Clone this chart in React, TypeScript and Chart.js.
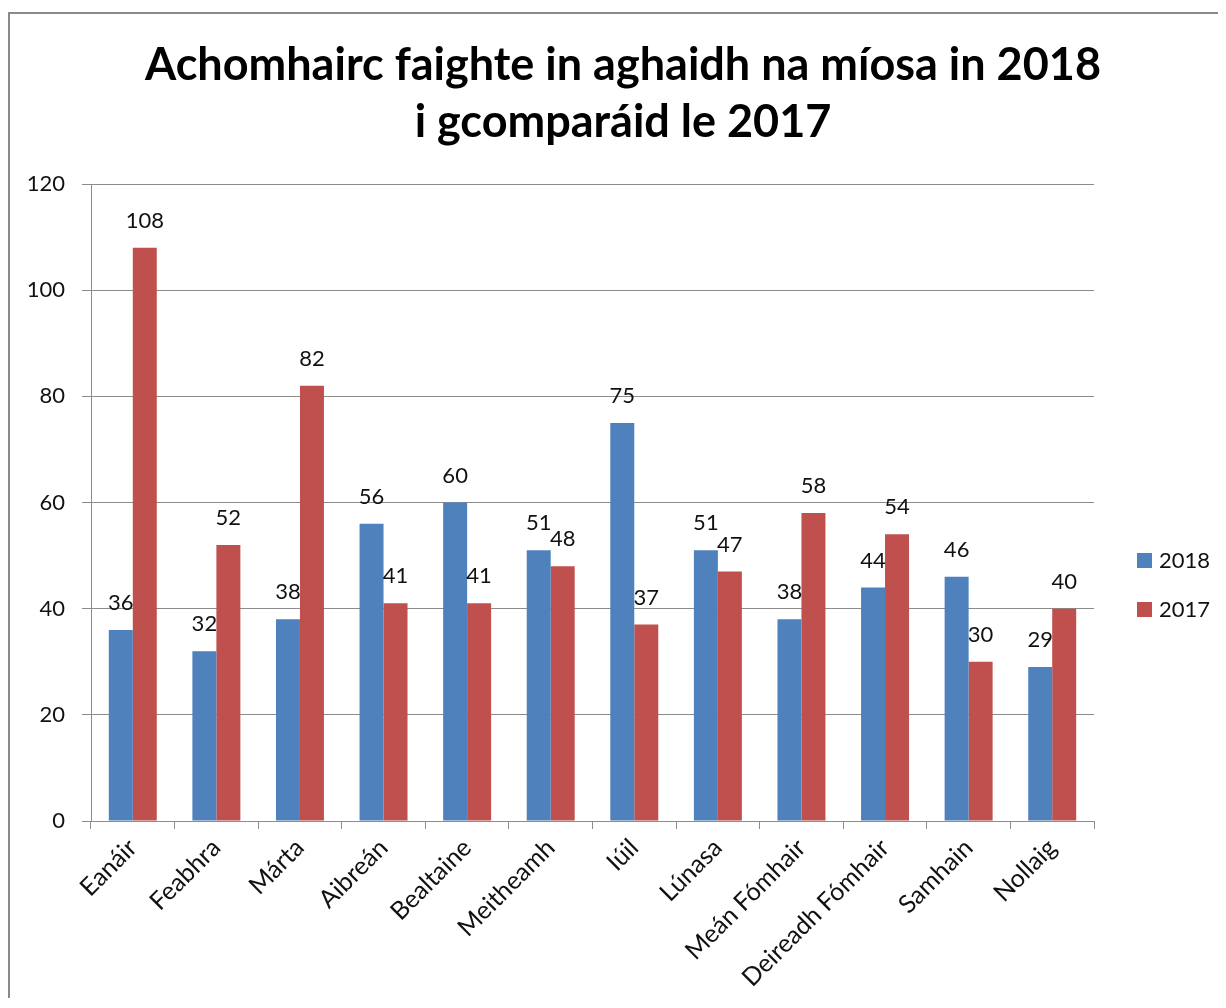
import { useEffect, useRef } from "react";
import { Chart, registerables } from "chart.js";

Chart.register(...registerables);

const TITLE_LINES = ["Achomhairc faighte in aghaidh na míosa in 2018", "i gcomparáid le 2017"];
const MONTHS = [
  "Eanáir",
  "Feabhra",
  "Márta",
  "Aibreán",
  "Bealtaine",
  "Meitheamh",
  "Iúil",
  "Lúnasa",
  "Meán Fómhair",
  "Deireadh Fómhair",
  "Samhain",
  "Nollaig",
];
const SERIES_NAMES = ["2018", "2017"];
const VALUES_2018 = [36, 32, 38, 56, 60, 51, 75, 51, 38, 44, 46, 29];
const VALUES_2017 = [108, 52, 82, 41, 41, 48, 37, 47, 58, 54, 30, 40];
const Y_MIN = 0;
const Y_MAX = 120;
const Y_STEP = 20;

const FONT = "Lato, 'Open Sans', sans-serif";
const TEXT_COLOR = "#111111";
const GRID_COLOR = "#8c8c8c";
const COLORS = ["#4F81BD", "#C0504D"];

const titleBlock = {
  id: "titleBlock",
  afterDraw(chart: any) {
    const ctx = chart.ctx;
    ctx.save();
    ctx.font = `bold 45px ${FONT}`;
    ctx.fillStyle = "#000000";
    ctx.textAlign = "center";
    ctx.textBaseline = "middle";
    TITLE_LINES.forEach((line, i) => {
      ctx.fillText(line, 613, 51 + i * 57);
    });
    ctx.restore();
  },
};

const valueLabels = {
  id: "valueLabels",
  afterDatasetsDraw(chart: any) {
    const ctx = chart.ctx;
    ctx.save();
    ctx.font = `22px ${FONT}`;
    ctx.fillStyle = TEXT_COLOR;
    ctx.textAlign = "center";
    ctx.textBaseline = "middle";
    chart.data.datasets.forEach((ds: any, i: number) => {
      const meta = chart.getDatasetMeta(i);
      meta.data.forEach((bar: any, j: number) => {
        ctx.fillText(String(ds.data[j]), bar.x, bar.y - 27);
      });
    });
    ctx.restore();
  },
};

const sideLegend = {
  id: "sideLegend",
  afterDraw(chart: any) {
    const { ctx, chartArea } = chart;
    ctx.save();
    ctx.font = `22px ${FONT}`;
    ctx.textAlign = "left";
    ctx.textBaseline = "middle";
    chart.data.datasets.forEach((ds: any, i: number) => {
      const cy = chartArea.top + 377 + i * 49;
      const x = chartArea.right + 43;
      ctx.fillStyle = ds.backgroundColor;
      ctx.fillRect(x, cy - 8, 15, 15);
      ctx.fillStyle = TEXT_COLOR;
      ctx.fillText(ds.label, x + 22, cy);
    });
    ctx.restore();
  },
};

export default function App() {
  const canvasRef = useRef<HTMLCanvasElement | null>(null);

  useEffect(() => {
    if (!canvasRef.current) return;
    const chart = new Chart(canvasRef.current, {
      type: "bar",
      data: {
        labels: MONTHS,
        datasets: [
          { label: SERIES_NAMES[0], data: VALUES_2018, backgroundColor: COLORS[0], borderWidth: 0 },
          { label: SERIES_NAMES[1], data: VALUES_2017, backgroundColor: COLORS[1], borderWidth: 0 },
        ],
      },
      options: {
        animation: false,
        responsive: false,
        devicePixelRatio: 1,
        layout: { padding: { left: 0, right: 124, top: 170, bottom: 0 } },
        datasets: {
          bar: { categoryPercentage: 0.574, barPercentage: 1.0 },
        },
        plugins: {
          legend: { display: false },
          tooltip: { enabled: false },
          title: { display: false },
        },
        scales: {
          x: {
            grid: {
              drawOnChartArea: false,
              drawTicks: true,
              tickLength: 8,
              color: GRID_COLOR,
              offset: true,
            },
            border: { color: GRID_COLOR, width: 1 },
            ticks: {
              autoSkip: false,
              minRotation: 45,
              maxRotation: 45,
              color: TEXT_COLOR,
              font: { family: FONT, size: 25 },
              padding: 4,
            },
            afterFit(scale: any) {
              scale.height = 181;
            },
          },
          y: {
            min: Y_MIN,
            max: Y_MAX,
            grid: { color: GRID_COLOR, tickLength: 9, lineWidth: 1 },
            border: { color: GRID_COLOR, width: 1 },
            ticks: {
              stepSize: Y_STEP,
              color: TEXT_COLOR,
              font: { family: FONT, size: 22 },
              padding: 17,
            },
            afterFit(scale: any) {
              scale.width = 81;
            },
          },
        },
      },
      plugins: [titleBlock, valueLabels, sideLegend],
    });
    return () => chart.destroy();
  }, []);

  return (
    <div
      style={{
        position: "relative",
        top: 4,
        width: 1210,
        height: 990,
        boxSizing: "border-box",
        borderLeft: "2px solid #8a8a8a",
        borderTop: "2px solid #8a8a8a",
        background: "#ffffff",
      }}
    >
      <canvas ref={canvasRef} width={1208} height={988} style={{ display: "block" }} />
    </div>
  );
}
